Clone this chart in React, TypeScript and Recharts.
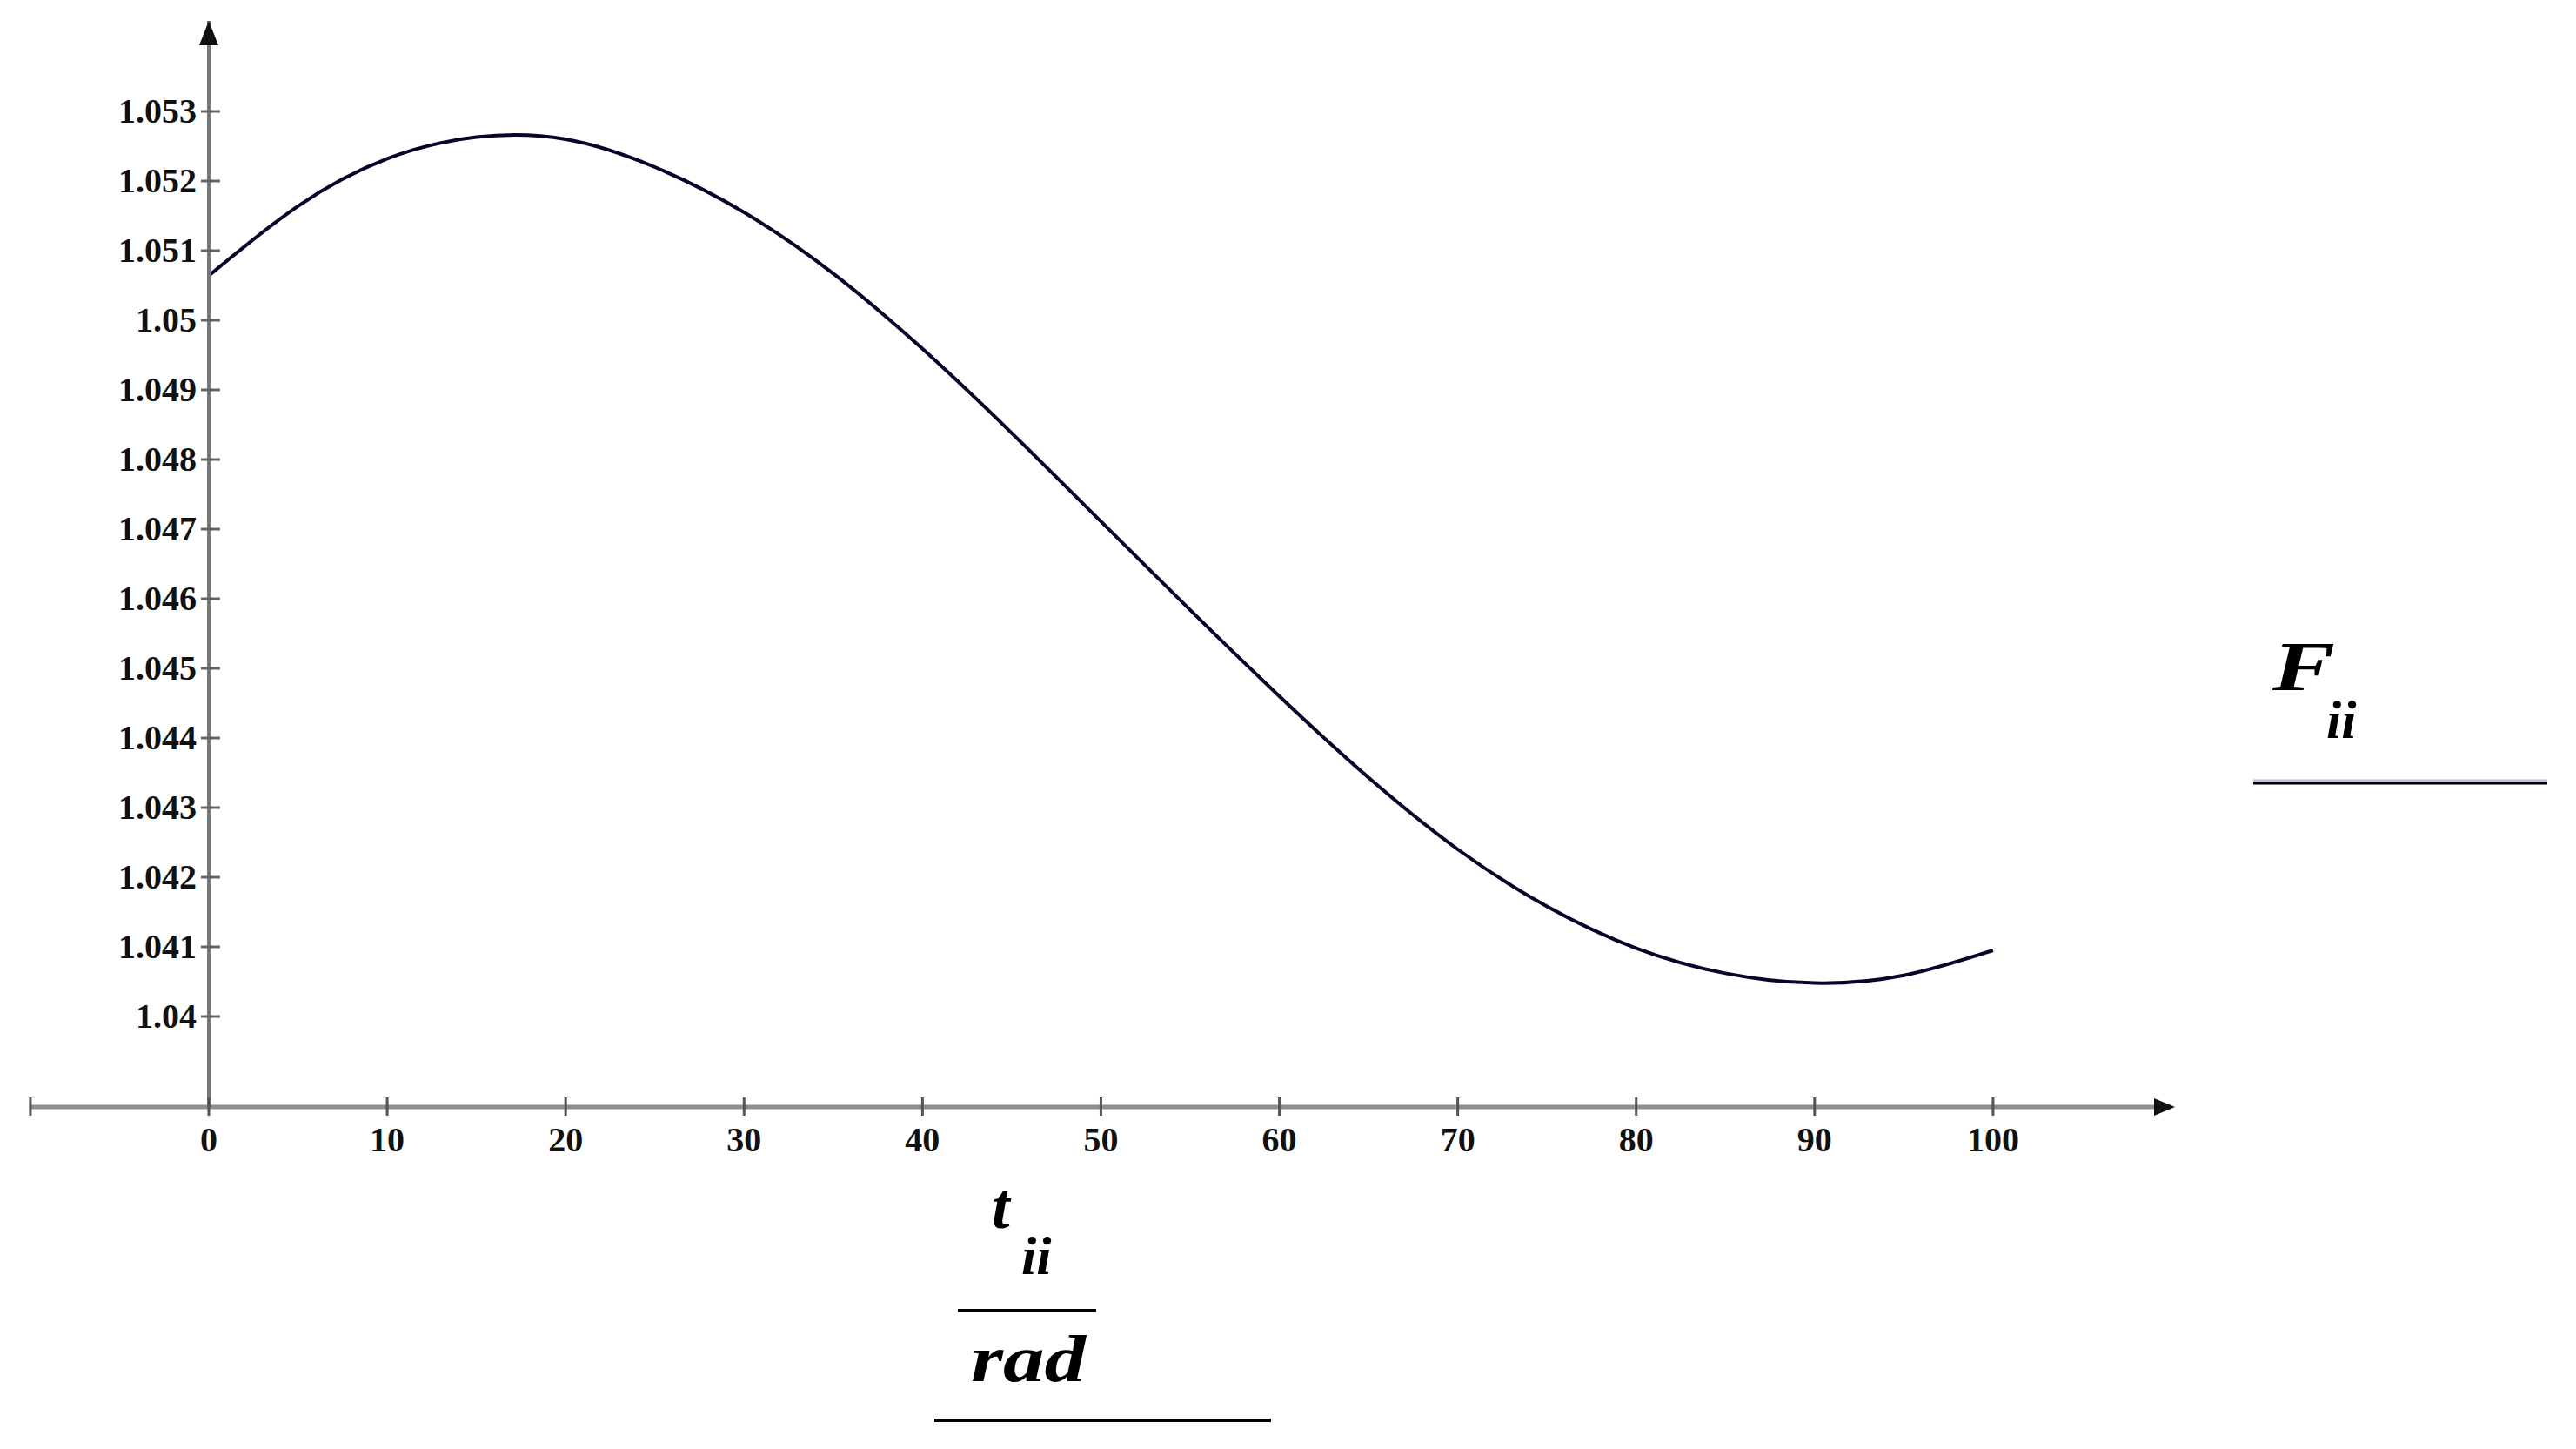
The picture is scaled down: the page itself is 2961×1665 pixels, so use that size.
import React from 'react'
import {
    LineChart,
    Line,
    XAxis,
    YAxis,
    ReferenceLine,
    ReferenceDot,
} from "recharts"

// t (rad) sample positions and F values
const tValues = [0, 5, 10, 15, 20, 25, 30, 35, 40, 45, 50, 55, 60, 65, 70, 75, 80, 85, 90, 95, 100]
const fValues = [
    1.05064, 1.05164, 1.05232, 1.05263, 1.0526, 1.0522, 1.05155, 1.05067, 1.04959, 1.04838,
    1.04711, 1.04584, 1.0446, 1.04343, 1.0424, 1.04158, 1.04098, 1.04062, 1.04048, 1.04059,
    1.04095,
]
const xTicks = [0, 10, 20, 30, 40, 50, 60, 70, 80, 90, 100]
const yTicks = [1.04, 1.041, 1.042, 1.043, 1.044, 1.045, 1.046, 1.047, 1.048, 1.049, 1.05, 1.051, 1.052, 1.053]

const xDomain = [0, 110]
const yDomain = [1.0387, 1.0543]
const xLeftEnd = -10

const tickFont = {
    fontFamily: '"Liberation Serif", serif',
    fontWeight: 700,
    fontSize: 40,
    fill: '#111',
}
const labelFont = {
    fontFamily: '"Liberation Serif", serif',
    fontWeight: 700,
    fontStyle: 'italic' as const,
    fill: '#000',
}

const XTick = (props: any) => {
    const { x, y, payload } = props
    return (
        <g>
            <line x1={x} x2={x} y1={y - 11} y2={y + 10} stroke="#555" strokeWidth={3} />
            <text x={x} y={y + 51} textAnchor="middle" {...tickFont}>{payload.value}</text>
        </g>
    )
}

const YTick = (props: any) => {
    const { x, y, payload } = props
    return (
        <g>
            <line x1={x - 9} x2={x + 13} y1={y} y2={y} stroke="#666" strokeWidth={3} />
            <text x={x - 14} y={y + 13} textAnchor="end" {...tickFont}>
                {String(+Number(payload.value).toFixed(3))}
            </text>
        </g>
    )
}

const App: React.FC = () => {
    const chartData = tValues.map((t, i) => ({ t, f: fValues[i] }))
    return (
        <div style={{ position: 'absolute', left: 0, top: 0, width: 2961, height: 1665, background: '#fff' }}>
            <LineChart
                width={2961}
                height={1665}
                data={chartData}
                margin={{ top: 24, right: 465, left: 40, bottom: 333 }}
            >
                <XAxis
                    dataKey="t"
                    type="number"
                    domain={xDomain}
                    ticks={xTicks}
                    interval={0}
                    height={60}
                    tickSize={0}
                    tickMargin={0}
                    tickLine={false}
                    axisLine={{ stroke: '#8f8f8f', strokeWidth: 5 }}
                    tick={XTick}
                />
                <YAxis
                    type="number"
                    domain={yDomain}
                    ticks={yTicks}
                    interval={0}
                    width={200}
                    tickSize={0}
                    tickMargin={0}
                    tickLine={false}
                    allowDataOverflow
                    axisLine={{ stroke: '#777', strokeWidth: 4 }}
                    tick={YTick}
                />
                <ReferenceLine
                    segment={[{ x: xLeftEnd, y: yDomain[0] }, { x: 0, y: yDomain[0] }]}
                    stroke="#8f8f8f"
                    strokeWidth={5}
                    ifOverflow="visible"
                />
                <ReferenceDot
                    x={xLeftEnd}
                    y={yDomain[0]}
                    ifOverflow="visible"
                    shape={(p: any) => (
                        <line x1={p.cx} x2={p.cx} y1={p.cy - 11} y2={p.cy + 10} stroke="#555" strokeWidth={3} />
                    )}
                />
                <ReferenceDot
                    x={xDomain[1]}
                    y={yDomain[0]}
                    ifOverflow="visible"
                    shape={(p: any) => (
                        <polygon
                            points={`${p.cx - 20},${p.cy - 10} ${p.cx + 4},${p.cy} ${p.cx - 20},${p.cy + 10}`}
                            fill="#111"
                        />
                    )}
                />
                <ReferenceDot
                    x={0}
                    y={yDomain[1]}
                    ifOverflow="visible"
                    shape={(p: any) => (
                        <polygon
                            points={`${p.cx - 11},${p.cy + 28} ${p.cx},${p.cy} ${p.cx + 11},${p.cy + 28}`}
                            fill="#111"
                        />
                    )}
                />
                <Line
                    type="natural"
                    dataKey="f"
                    stroke="#06062a"
                    strokeWidth={4}
                    dot={false}
                    activeDot={false}
                    isAnimationActive={false}
                />
            </LineChart>
            <svg
                width={2961}
                height={1665}
                style={{ position: 'absolute', left: 0, top: 0, pointerEvents: 'none' }}
            >
                <text x={1140} y={1411} fontSize={74} {...labelFont}>t</text>
                <text x={1174} y={1464} fontSize={62} {...labelFont}>ii</text>
                <line x1={1101} x2={1260} y1={1506} y2={1506} stroke="#000" strokeWidth={4} />
                <text x={1116} y={1587} fontSize={76} textLength={132} lengthAdjust="spacingAndGlyphs" {...labelFont}>rad</text>
                <line x1={1074} x2={1461} y1={1632} y2={1632} stroke="#000" strokeWidth={4} />
                <text x={2612} y={793} fontSize={80} textLength={72} lengthAdjust="spacingAndGlyphs" {...labelFont}>F</text>
                <text x={2674} y={848} fontSize={62} {...labelFont}>ii</text>
                <line x1={2590} x2={2928} y1={897} y2={897} stroke="#bcbcdc" strokeWidth={3} />
                <line x1={2590} x2={2928} y1={900} y2={900} stroke="#000" strokeWidth={3} />
            </svg>
        </div>
    )
}

export default App
